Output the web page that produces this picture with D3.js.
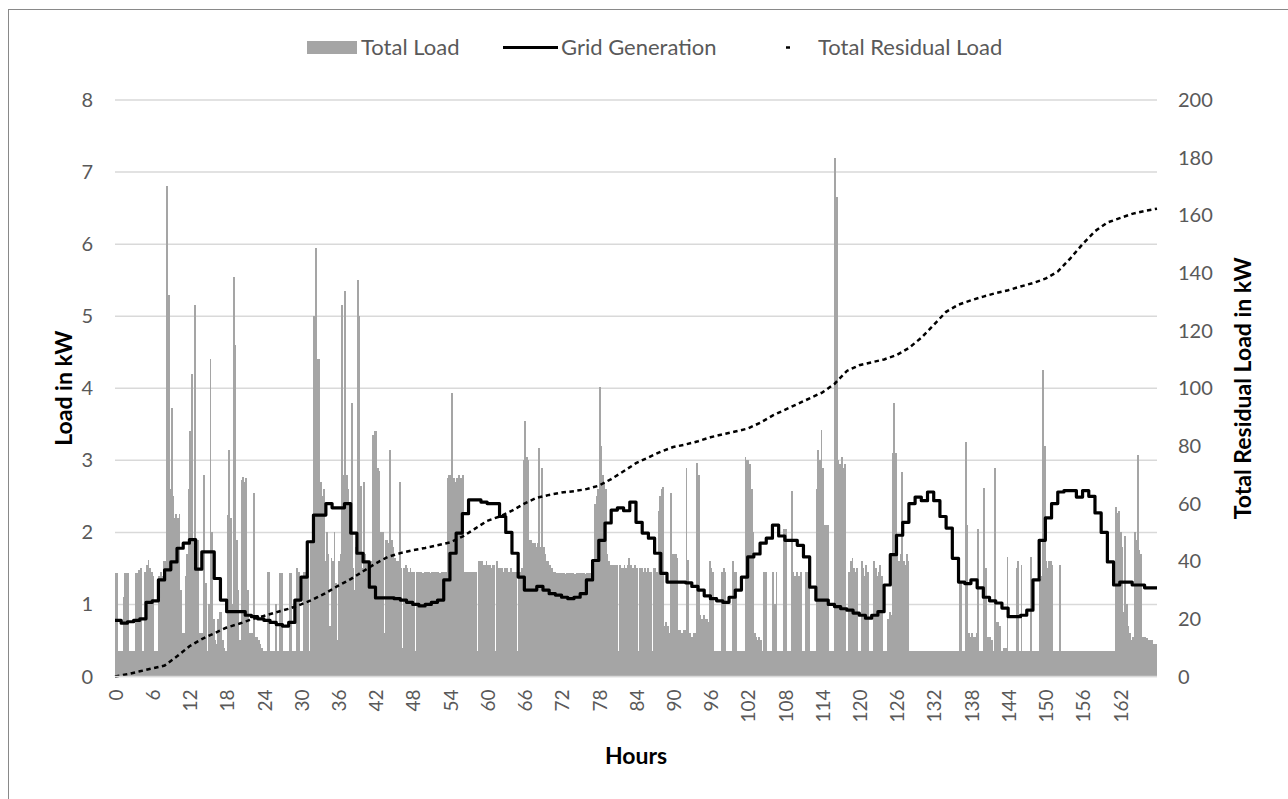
<!DOCTYPE html>
<html>
<head>
<meta charset="utf-8">
<script src="https://cdn.jsdelivr.net/npm/d3@7"></script>
<style>
  body { margin: 0; background: #fff; }
  svg text { font-family: Lato, "Open Sans", sans-serif; }
</style>
</head>
<body>
<div id="chart"></div>
<script>
// =========================
// DATA
// =========================
// Total load in kW, one value per 15 minutes (4 per hour), hours 0..167
const totalLoad = [
  1.44,1.44,0.35,0.35, 0.35,1.1,1.44,1.44, 1.44,0.35,0.35,0.35, 0.35,1.44,1.44,1.48, 1.5,0.35,0.35,1.45, 1.55,1.62,1.5,1.45,
  1.4,0.35,0.35,0.35, 1.4,1.45,1.4,1.6, 1.6,6.8,5.3,2.6, 3.72,2.5,2.2,2.25, 2.2,2.25,1.2,0.6, 0.6,1.4,1.7,2.6,
  3.4,4.2,1.9,5.15, 1.5,1.9,0.6,0.6, 0.6,2.79,1.3,0.35, 1.0,4.4,2.0,0.8, 0.5,0.45,0.8,0.9, 0.9,0.5,0.4,0.35,
  2.24,3.14,2.2,1.0, 5.55,4.6,1.9,1.2, 0.5,2.73,2.77,2.7, 2.75,1.2,0.6,0.6, 0.6,2.54,0.55,0.55, 0.5,0.45,0.4,0.35,
  0.35,0.35,1.45,1.45, 0.35,0.35,0.35,1.0, 0.35,0.35,1.44,1.44, 0.35,0.35,0.35,0.35, 1.44,1.44,0.35,0.35, 0.35,1.5,1.45,0.35,
  0.35,1.45,1.45,1.4, 1.4,0.35,1.9,1.9, 5.0,5.95,4.4,4.4, 2.7,2.5,2.6,1.6, 2.0,1.7,0.7,1.65, 1.6,2.0,1.3,0.5,
  1.6,1.7,5.15,2.8, 5.35,2.8,2.6,2.0, 3.8,1.5,1.2,1.8, 5.5,5.0,2.65,1.5, 2.7,1.7,1.6,1.5, 1.5,1.6,3.35,3.4,
  3.4,2.9,2.85,2.0, 2.0,0.6,1.9,1.9, 1.85,3.14,1.9,1.8, 1.65,1.6,1.6,2.7, 1.5,0.4,1.5,1.55, 1.5,1.45,1.5,1.45,
  1.45,0.35,1.45,1.45, 1.45,1.45,1.44,1.45, 1.45,1.45,1.45,1.44, 1.45,1.45,1.45,1.45, 1.45,1.44,1.45,1.45, 1.45,1.45,2.75,2.8,
  2.8,3.94,2.75,2.7, 2.75,2.8,2.75,2.75, 2.8,1.45,1.45,1.45, 1.45,1.45,1.45,1.45, 1.45,0.35,1.6,1.6, 1.6,1.55,1.55,1.6,
  1.55,1.55,1.5,1.55, 1.55,0.35,1.6,1.5, 1.5,1.5,1.45,1.5, 1.5,1.45,1.45,1.5, 1.45,1.45,1.45,0.35, 1.45,1.45,1.5,3.0,
  3.55,3.05,3.0,1.9, 1.9,1.85,1.85,1.8, 1.85,3.17,1.8,2.9, 1.8,1.7,1.6,1.6, 1.55,1.5,1.45,1.45, 1.43,1.43,1.43,1.43,
  1.43,1.43,1.42,1.43, 1.43,1.43,1.43,1.43, 1.42,1.43,1.43,1.43, 1.43,1.43,1.43,1.42, 1.43,1.43,1.43,1.43, 1.45,2.4,2.5,2.6,
  4.02,3.2,2.8,2.7, 2.6,1.7,1.6,1.55, 1.55,1.55,1.55,1.55, 0.35,1.55,1.5,1.5, 1.55,1.5,1.55,1.65, 1.55,1.5,1.5,1.55,
  1.5,0.35,1.5,1.5, 1.45,1.5,1.45,1.5, 1.45,1.45,0.35,1.5, 1.5,1.45,2.3,2.5, 2.6,2.63,0.7,0.75, 0.7,0.6,2.54,1.7,
  1.7,1.7,1.65,0.65, 0.65,0.6,0.65,0.65, 2.9,1.62,0.6,0.55, 0.55,0.6,0.6,2.96, 2.8,0.85,0.8,0.85, 0.8,0.8,0.75,1.6,
  1.5,1.45,0.35,0.35, 0.35,0.35,0.35,1.45, 1.5,1.45,0.35,0.35, 0.35,0.35,1.6,1.45, 1.45,0.35,0.35,0.35, 0.35,0.35,3.04,3.0,
  3.0,2.95,2.6,2.0, 0.6,0.55,0.5,0.55, 0.5,0.35,1.45,1.45, 0.35,0.35,0.35,0.35, 1.45,1.0,1.45,0.35, 0.35,0.35,0.35,2.05,
  2.05,0.35,0.35,0.35, 2.58,1.45,1.4,1.45, 1.4,1.4,1.45,0.35, 0.35,1.45,1.45,1.45, 0.35,0.35,0.35,0.35, 2.6,3.15,3.0,3.42,
  2.9,2.1,2.1,2.1, 0.35,0.35,0.35,0.35, 7.2,6.65,3.0,2.95, 3.05,2.9,2.95,0.35, 0.35,1.45,1.6,1.65, 1.5,1.45,1.5,0.35,
  0.35,1.6,1.5,1.4, 1.55,1.45,0.35,0.35, 0.35,1.6,1.5,1.4, 1.45,1.55,1.4,0.35, 0.35,0.35,0.8,0.9, 0.85,3.1,3.8,3.1,
  1.9,1.6,1.7,2.84, 1.6,1.55,1.7,1.6, 0.35,0.35,0.35,0.35, 0.35,0.35,0.35,0.35, 0.35,0.35,0.35,0.35, 0.35,0.35,0.35,0.35,
  0.35,0.35,0.35,0.35, 0.35,0.35,0.35,0.35, 0.35,0.35,0.35,0.35, 0.35,0.35,0.35,0.35, 1.34,1.3,0.35,0.35, 3.25,2.1,0.6,0.55,
  0.6,0.55,0.55,0.6, 2.05,0.35,0.35,0.35, 2.61,1.5,0.55,0.55, 0.55,0.5,0.35,2.9, 0.75,0.75,0.7,0.35, 0.35,0.4,0.4,1.66,
  0.35,0.35,0.35,0.35, 0.35,1.5,1.6,0.35, 1.55,0.35,0.35,0.35, 0.35,0.35,1.66,0.35, 0.35,0.35,0.35,0.35, 1.35,1.4,4.25,3.2,
  1.6,1.5,1.6,1.6, 1.55,0.35,0.35,0.35, 0.35,1.55,0.35,0.35, 0.35,0.35,0.35,0.35, 0.35,0.35,0.35,0.35, 0.35,0.35,0.35,0.35,
  0.35,0.35,0.35,0.35, 0.35,0.35,0.35,0.35, 0.35,0.35,0.35,0.35, 0.35,0.35,0.35,0.35, 0.35,0.35,0.35,0.35, 0.35,2.35,2.27,2.3,
  2.0,1.8,0.9,1.95, 1.0,0.7,0.6,0.5, 0.55,2.0,1.9,3.07, 1.75,1.7,0.55,0.55, 0.55,0.53,0.5,0.5, 0.5,0.45,0.45,0.45
];

// Grid generation in kW, hourly (hour 0..168)
const gridGeneration = [
  0.78,0.74,0.76,0.78,0.8,1.03,1.05,1.34,1.48,1.59,1.78,1.85,1.9,1.49,1.73,1.73,1.36,1.06,0.9,0.9,
  0.9,0.85,0.83,0.8,0.78,0.75,0.72,0.7,0.75,1.06,1.38,1.87,2.24,2.24,2.4,2.34,2.34,2.4,1.99,1.71,
  1.59,1.24,1.09,1.09,1.09,1.08,1.06,1.03,1.0,0.98,1.0,1.03,1.06,1.34,1.71,1.99,2.26,2.45,2.45,2.42,
  2.4,2.4,2.22,2.0,1.71,1.38,1.2,1.2,1.25,1.2,1.15,1.13,1.1,1.08,1.1,1.15,1.34,1.61,1.89,2.13,
  2.31,2.34,2.3,2.42,2.14,1.99,1.92,1.71,1.43,1.31,1.31,1.31,1.3,1.25,1.2,1.12,1.08,1.05,1.03,1.1,
  1.2,1.38,1.66,1.7,1.85,1.92,2.1,1.95,1.89,1.89,1.82,1.66,1.24,1.06,1.06,1.0,0.97,0.94,0.92,0.88,
  0.85,0.81,0.85,0.9,1.27,1.69,1.96,2.14,2.4,2.49,2.44,2.56,2.44,2.22,2.06,1.64,1.31,1.29,1.34,1.23,
  1.1,1.05,1.02,0.95,0.83,0.83,0.85,0.92,1.34,1.89,2.2,2.4,2.56,2.58,2.58,2.49,2.58,2.5,2.27,2.0,
  1.59,1.27,1.31,1.31,1.27,1.27,1.23,1.23,1.23
];

// Total residual load (cumulative, kW, right axis), every 2 hours
const residualHours = [
  0,2,4,6,8,10,12,14,16,18,20,22,24,26,28,30,32,34,36,38,40,42,44,46,48,50,52,54,56,58,60,62,64,66,68,70,
  72,74,76,78,80,82,84,86,88,90,92,94,96,98,100,102,104,106,108,110,112,114,116,118,120,122,124,126,128,
  130,132,134,136,138,140,142,144,146,148,150,152,154,156,158,160,162,164,166,168
];
const residualLoad = [
  0,0.8,1.8,2.8,3.8,7,10.5,13,15,17,18.3,19.8,21,22.3,23.5,25,26.8,29,31.5,33.8,36.5,39.2,41.5,42.8,43.8,
  44.6,45.5,46.5,48.5,51.2,54,55.5,57.5,60,62,63,63.8,64.3,65,66.2,68.5,71.2,74,76,78,79.6,80.5,81.6,83,
  84,85,86,88,90.5,92.5,94.5,96.5,98.5,101.5,106,108,109,110,111.5,114,117.5,122,126.5,129,130.5,131.8,
  133,134,135.3,136.5,138,140.5,145,150,154.5,157.5,159,160.5,161.5,162.3
];

const xTickLabels = ["0","6","12","18","24","30","36","42","48","54","60","66","72","78","84","90","96","102","108","114","120","126","132","138","144","150","156","162"];
const leftTicks = [0,1,2,3,4,5,6,7,8];
const rightTicks = [0,20,40,60,80,100,120,140,160,180,200];

// =========================
// SETUP
// =========================
const width = 1288, height = 799;
const plot = { left: 115, right: 1157, top: 100, bottom: 676.5 };

const svg = d3.select("#chart").append("svg")
  .attr("width", width)
  .attr("height", height);

// chart frame
svg.append("rect")
  .attr("x", 8.5).attr("y", 9.5)
  .attr("width", width).attr("height", height)
  .attr("fill", "none")
  .attr("stroke", "#898989");

const x = d3.scaleBand()
  .domain(d3.range(totalLoad.length))
  .range([plot.left, plot.right])
  .padding(0);

const xHour = d3.scaleLinear()
  .domain([0, totalLoad.length / 4])
  .range([plot.left, plot.right]);

const yLeft = d3.scaleLinear().domain([0, 8]).range([plot.bottom, plot.top]);
const yRight = d3.scaleLinear().domain([0, 200]).range([plot.bottom, plot.top]);

// =========================
// GRID
// =========================
svg.append("g")
  .selectAll("line")
  .data(leftTicks)
  .join("line")
  .attr("x1", plot.left).attr("x2", plot.right)
  .attr("y1", d => yLeft(d)).attr("y2", d => yLeft(d))
  .attr("stroke", "#d9d9d9")
  .attr("stroke-width", 1.5);

// =========================
// BARS
// =========================
svg.append("g")
  .selectAll("rect")
  .data(totalLoad)
  .join("rect")
  .attr("x", (d, i) => x(i))
  .attr("width", x.bandwidth() + 0.3)
  .attr("y", d => yLeft(d))
  .attr("height", d => yLeft(0) - yLeft(d))
  .attr("fill", "#a5a5a5")
  .attr("shape-rendering", "crispEdges");

// =========================
// LINES
// =========================
const gridLine = d3.line()
  .x((d, i) => xHour(i))
  .y(d => yLeft(d))
  .curve(d3.curveStepAfter);

svg.append("path")
  .datum(gridGeneration)
  .attr("d", gridLine)
  .attr("fill", "none")
  .attr("stroke", "#000")
  .attr("stroke-width", 3.2)
  .attr("stroke-linejoin", "round");

const residualLine = d3.line()
  .x((d, i) => xHour(residualHours[i]))
  .y(d => yRight(d));

svg.append("path")
  .datum(residualLoad)
  .attr("d", residualLine)
  .attr("fill", "none")
  .attr("stroke", "#000")
  .attr("stroke-width", 2.5)
  .attr("stroke-dasharray", "4.5,3.5");

// =========================
// AXES
// =========================
svg.append("line")
  .attr("x1", plot.left).attr("x2", plot.right)
  .attr("y1", plot.bottom).attr("y2", plot.bottom)
  .attr("stroke", "#d9d9d9").attr("stroke-width", 1.5);

svg.append("g")
  .selectAll("text")
  .data(leftTicks)
  .join("text")
  .attr("x", 93)
  .attr("y", d => yLeft(d) + 7)
  .attr("text-anchor", "end")
  .attr("fill", "#595959")
  .style("font-size", "20px")
  .text(d => d);

svg.append("g")
  .selectAll("text")
  .data(rightTicks)
  .join("text")
  .attr("x", 1178)
  .attr("y", d => yRight(d) + 7)
  .attr("text-anchor", "start")
  .attr("fill", "#595959")
  .style("font-size", "20px")
  .text(d => d);

svg.append("g")
  .selectAll("text")
  .data(xTickLabels)
  .join("text")
  .attr("transform", (d, i) => `translate(${x(i * 24) + x.bandwidth() / 2 + 7},${plot.bottom + 13}) rotate(-90)`)
  .attr("text-anchor", "end")
  .attr("fill", "#595959")
  .style("font-size", "19px")
  .text(d => d);

// axis titles
svg.append("text")
  .attr("x", (plot.left + plot.right) / 2)
  .attr("y", 764)
  .attr("text-anchor", "middle")
  .style("font-size", "23px")
  .style("font-weight", "bold")
  .text("Hours");

svg.append("text")
  .attr("transform", `translate(72,${(plot.top + plot.bottom) / 2}) rotate(-90)`)
  .attr("text-anchor", "middle")
  .style("font-size", "23px")
  .style("font-weight", "bold")
  .text("Load in kW");

svg.append("text")
  .attr("transform", `translate(1251,${(plot.top + plot.bottom) / 2}) rotate(-90)`)
  .attr("text-anchor", "middle")
  .style("font-size", "23px")
  .style("font-weight", "bold")
  .text("Total Residual Load in kW");

// =========================
// LEGEND
// =========================
const legend = svg.append("g").style("font-size", "22px").attr("fill", "#595959");

legend.append("rect")
  .attr("x", 307).attr("y", 41).attr("width", 50).attr("height", 13)
  .attr("fill", "#a5a5a5");
legend.append("text").attr("x", 361).attr("y", 55).text("Total Load");

legend.append("line")
  .attr("x1", 503).attr("x2", 558).attr("y1", 47.5).attr("y2", 47.5)
  .attr("stroke", "#000").attr("stroke-width", 3.2);
legend.append("text").attr("x", 561).attr("y", 55).text("Grid Generation");

legend.append("line")
  .attr("x1", 786).attr("x2", 790).attr("y1", 47.5).attr("y2", 47.5)
  .attr("stroke", "#000").attr("stroke-width", 2.5);
legend.append("text").attr("x", 818).attr("y", 55).text("Total Residual Load");
</script>
</body>
</html>
